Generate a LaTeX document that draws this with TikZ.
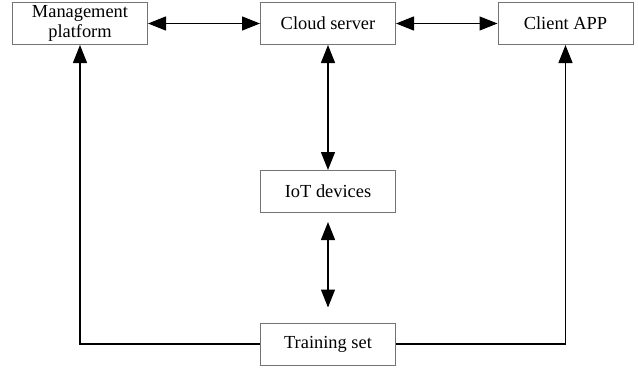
\documentclass[tikz,border=0pt]{standalone}
\usepackage{fontspec}
\setmainfont{Liberation Serif}
\usetikzlibrary{positioning, arrows.meta}
\tikzset{
	block/.style={
		rectangle,
		draw=black!55,
		line width=0.5pt,
		align=center,
		minimum width=67.5pt,
		minimum height=21pt,
		inner sep=1pt,
		font=\fontsize{9.2}{10}\selectfont,
	},
	link/.style={
		line width=0.6pt,
	},
}

\begin{document}
\begin{tikzpicture}[node distance=2cm, >={Triangle[length=9pt,width=7pt]}]
		
		\useasboundingbox (0,0) rectangle (319pt,-185pt);
		\node [block] (cloud) at (164pt,-11.75pt) {Cloud server};
		\node [block, left of = cloud, node distance=124pt] (mgmt) {Management\\platform};
		\node [block, right of = cloud, node distance=118.75pt] (app) {Client APP};
		\node [block, below of = cloud, node distance=84pt] (iot) {IoT devices};
		\node [block, below of = iot, node distance=76.25pt] (train) {Training set};
		
		\draw [link, <->] (mgmt) to (cloud);
		\draw [link, <->] (cloud) to (app);
		\draw [link, <->] (cloud) to (iot);
		\draw [link, <->, shorten <=4.5pt, shorten >=7.5pt] (iot) to (train);
		\draw [link, ->] (train.west) -| (mgmt.south);
		\draw [link, ->] (train.east) -| (app.south);
	\end{tikzpicture}
\end{document}
